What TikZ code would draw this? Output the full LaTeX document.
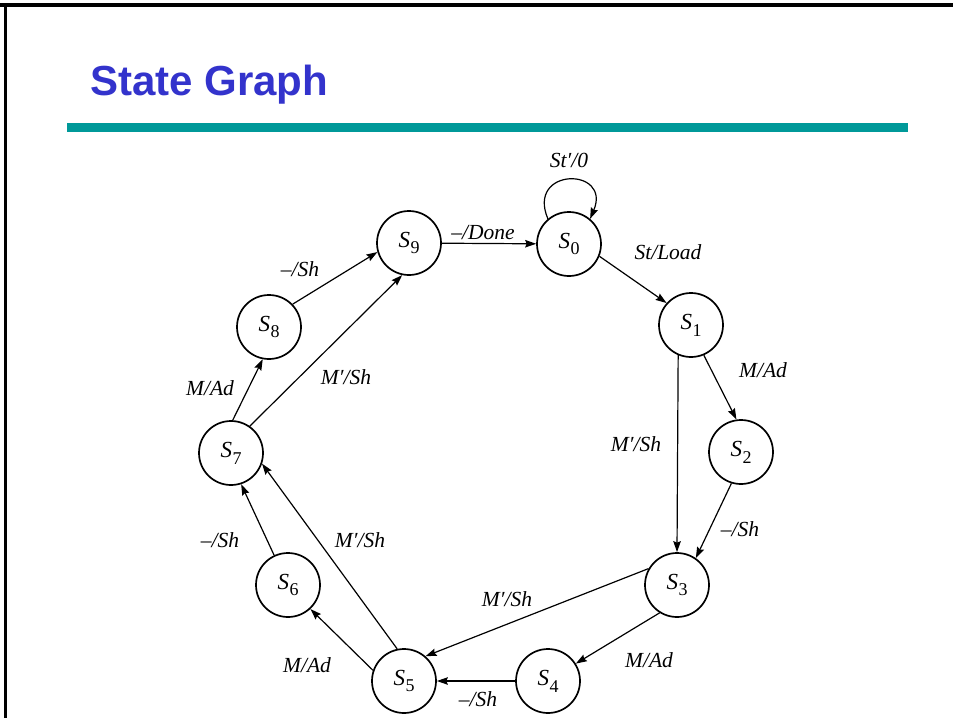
\documentclass[tikz,border=0pt]{standalone}
\usepackage{fontspec}
\setmainfont{Liberation Serif}
\newfontfamily\titlefont{Liberation Sans}
\usetikzlibrary{arrows.meta}
\definecolor{titleblue}{RGB}{51,51,204}
\definecolor{barteal}{RGB}{0,153,153}
% state name: italic S with an upright index
\newcommand{\stname}[1]{\textit{S}\kern0.5pt\raisebox{-0.3em}{\fontsize{18}{18}\selectfont #1}}
\tikzset{
  state/.style={circle, draw, line width=1.7pt, minimum size=64pt, inner sep=0pt,
                font=\fontsize{23}{23}\selectfont},
  lab/.style={font=\fontsize{21.5}{21.5}\selectfont\itshape, inner sep=0pt},
  trans/.style={line width=1.2pt, -{Stealth[length=11pt,width=7.5pt,inset=1.5pt]}},
}
\begin{document}
\begin{tikzpicture}[x=1pt,y=-1pt]
\useasboundingbox (0,0) rectangle (953,718);
\fill[white] (0,0) rectangle (953,718);
% slide frame
\draw[line width=3.5pt] (0,5) -- (953,5);
\draw[line width=3pt] (5,3.5) -- (5,718);
% title and rule
\node[anchor=base west, inner sep=0pt, text=titleblue, font=\titlefont\bfseries\fontsize{42}{42}\selectfont] (title) at (90,95) {State Graph};
\fill[barteal] (67,122.5) rectangle (908,131.5);

% states
\node[state] (s0) at (569,244) {\stname{0}};
\node[state] (s1) at (691,325) {\stname{1}};
\node[state] (s2) at (741,452) {\stname{2}};
\node[state] (s3) at (677,585) {\stname{3}};
\node[state] (s4) at (548,681) {\stname{4}};
\node[state] (s5) at (404,681) {\stname{5}};
\node[state] (s6) at (288,585) {\stname{6}};
\node[state] (s7) at (231,453) {\stname{7}};
\node[state] (s8) at (269,327) {\stname{8}};
\node[state] (s9) at (409,243) {\stname{9}};

% transitions (y grows downwards, so upward offsets are negative)
\draw[trans] (s0.130) .. controls +(-22,-52) and +(22,-52) .. (s0.50);
\draw[trans] (s9) -- (s0);
\draw[trans] (s0.-22) -- (s1.138);
\draw[trans] (s1.-67) -- (s2.98);
\draw[trans] (s1.-113) -- (s3.90);
\draw[trans] (s2.-107) -- (s3.55);
\draw[trans] (s3.-122) -- (s4.32);
\draw[trans] (s3.150) -- (s5.49);
\draw[trans] (s4) -- (s5);
\draw[trans] (s5.161) -- (s6.-47);
\draw[trans] (s5.102) -- (s7.-19);
\draw[trans] (s6.115) -- (s7.-72);
\draw[trans] (s7.87) -- (s8.-101);
\draw[trans] (s7.55) -- (s9.-102);
\draw[trans] (s8.44) -- (s9.-164);

% transition labels
\node[lab] (l00) at (569,160) {St′/0};
\node[lab] (l90) at (483,233) {–/Done};
\node[lab] (l01) at (668,252) {St/Load};
\node[lab] (l12) at (763,370) {M/Ad};
\node[lab] (l13) at (636,444) {M′/Sh};
\node[lab] (l23) at (740,529) {–/Sh};
\node[lab] (l34) at (649,660) {M/Ad};
\node[lab] (l35) at (507,599) {M′/Sh};
\node[lab] (l45) at (478,699) {–/Sh};
\node[lab] (l56) at (307,665) {M/Ad};
\node[lab] (l57) at (360,540) {M′/Sh};
\node[lab] (l67) at (220,540) {–/Sh};
\node[lab] (l78) at (210,388) {M/Ad};
\node[lab] (l79) at (346,377) {M′/Sh};
\node[lab] (l89) at (300,269) {–/Sh};
\end{tikzpicture}
\end{document}
